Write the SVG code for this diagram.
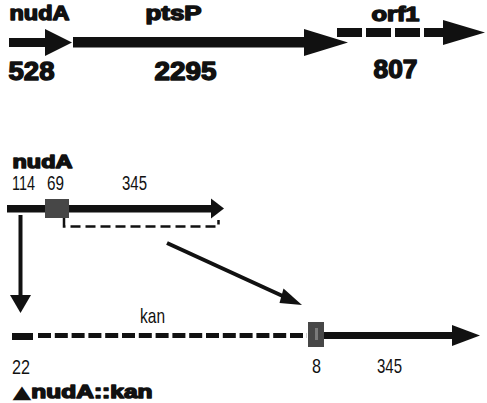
<svg xmlns="http://www.w3.org/2000/svg" width="487" height="403" viewBox="0 0 487 403">
<style>
.hb{font-family:"Liberation Sans",Arial,sans-serif;font-weight:bold;fill:#111;stroke:#111;stroke-width:1.4;stroke-linejoin:round}
.nr{font-family:"Liberation Sans",Arial,sans-serif;fill:#111}
.ln{stroke:#111;fill:none}
.ah{fill:#111}
.box{fill:#474747}
</style>
<rect width="487" height="403" fill="#fff"/>
<g id="gene-nudA">
<rect x="9" y="38" width="37" height="9" class="ah"/>
<polygon points="45,29 72,42.5 45,56" class="ah"/>
<text x="9.5" y="20" font-size="19.5" class="hb" textLength="60" lengthAdjust="spacingAndGlyphs">nudA</text>
<text x="8.5" y="80" font-size="25" class="hb" textLength="46" lengthAdjust="spacingAndGlyphs">528</text>
</g>
<g id="gene-ptsP">
<rect x="73" y="37" width="234" height="10.5" class="ah"/>
<polygon points="304,29 348,42.5 304,56" class="ah"/>
<text x="145.5" y="20" font-size="19.5" class="hb" textLength="56" lengthAdjust="spacingAndGlyphs">ptsP</text>
<text x="154.5" y="80" font-size="25" class="hb" textLength="62" lengthAdjust="spacingAndGlyphs">2295</text>
</g>
<g id="gene-orf1">
<line x1="337" y1="32.5" x2="444" y2="32.5" class="ln" stroke-width="9" stroke-dasharray="25 4"/>
<polygon points="443,20 485,32.5 443,45" class="ah"/>
<text x="371.5" y="21" font-size="19.5" class="hb" textLength="48" lengthAdjust="spacingAndGlyphs">orf1</text>
<text x="373.5" y="78" font-size="25" class="hb" textLength="44" lengthAdjust="spacingAndGlyphs">807</text>
</g>
<g id="construct-nudA">
<text x="12.5" y="168" font-size="18" class="hb" textLength="60" lengthAdjust="spacingAndGlyphs">nudA</text>
<text x="12" y="190" font-size="20" class="nr" textLength="23" lengthAdjust="spacingAndGlyphs">114</text>
<text x="47" y="190" font-size="20" class="nr" textLength="17" lengthAdjust="spacingAndGlyphs">69</text>
<text x="122" y="190" font-size="20" class="nr" textLength="25" lengthAdjust="spacingAndGlyphs">345</text>
<rect x="7" y="205" width="207" height="7.5" class="ah"/>
<polygon points="211,198.5 224,208.5 211,218.5" class="ah"/>
<rect x="45" y="199" width="24" height="19" class="box"/>
<path d="M64,218 V226.5 H218.5 V220" class="ln" stroke-width="2.5" stroke-dasharray="10 5"/>
</g>
<g id="construct-nudA-kan">
<rect x="12" y="333" width="21" height="7" class="ah"/>
<line x1="38" y1="335.5" x2="307" y2="335.5" class="ln" stroke-width="5" stroke-dasharray="13 3.8"/>
<text x="140" y="323" font-size="21" class="nr" textLength="25" lengthAdjust="spacingAndGlyphs">kan</text>
<rect x="323" y="332" width="130" height="7" class="ah"/>
<polygon points="452,325 480,335.5 452,346" class="ah"/>
<rect x="308" y="322" width="16" height="25" class="box"/>
<rect x="315" y="328" width="3" height="12" fill="#7a7a7a"/>
<text x="12" y="374" font-size="21" class="nr" textLength="18" lengthAdjust="spacingAndGlyphs">22</text>
<text x="312" y="373" font-size="21" class="nr" textLength="9" lengthAdjust="spacingAndGlyphs">8</text>
<text x="377" y="373" font-size="21" class="nr" textLength="25" lengthAdjust="spacingAndGlyphs">345</text>
<text x="12.5" y="398" font-size="18" class="hb" textLength="140" lengthAdjust="spacingAndGlyphs"><tspan font-family="'DejaVu Sans',sans-serif" stroke="none">▲</tspan>nudA::kan</text>
</g>
<g id="connectors">
<line x1="20.5" y1="215" x2="20.5" y2="296" class="ln" stroke-width="4"/>
<polygon points="10,295 31,295 20.5,313" class="ah"/>
<line x1="167" y1="243" x2="287" y2="298" class="ln" stroke-width="4"/>
<polygon points="283.5,288.5 302,305 279.5,303" class="ah"/>
</g>
</svg>
